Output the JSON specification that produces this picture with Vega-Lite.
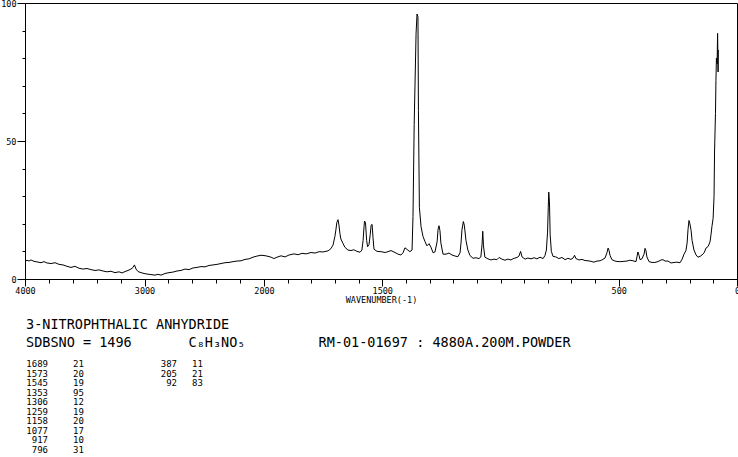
{
  "$schema": "https://vega.github.io/schema/vega-lite/v6.json",
  "background": "white",
  "padding": {"left": 0, "top": -2, "right": 0, "bottom": 0},
  "spacing": 12,
  "config": {
    "view": {"stroke": null},
    "font": "DejaVu Sans Mono",
    "axis": {
      "labelFont": "DejaVu Sans Mono", "labelFontSize": 8.5, "labelColor": "black",
      "tickColor": "black", "domainColor": "black", "tickWidth": 1, "domainWidth": 1,
      "titleFont": "DejaVu Sans Mono", "titleFontSize": 8.5, "titleFontWeight": "normal", "titleColor": "black",
      "grid": false
    }
  },
  "datasets": {
    "spectrum": [
      {"wavenumber":4000,"intensity":6.3},{"wavenumber":3983,"intensity":6.8},{"wavenumber":3967,"intensity":6.5},{"wavenumber":3950,"intensity":6.9},{"wavenumber":3925,"intensity":6.4},{"wavenumber":3900,"intensity":6.2},{"wavenumber":3866,"intensity":5.9},{"wavenumber":3841,"intensity":6.3},{"wavenumber":3816,"intensity":5.8},{"wavenumber":3782,"intensity":5.6},{"wavenumber":3749,"intensity":5.9},{"wavenumber":3715,"intensity":5.3},{"wavenumber":3682,"intensity":5.1},{"wavenumber":3649,"intensity":4.6},{"wavenumber":3615,"intensity":4.2},{"wavenumber":3582,"intensity":4.6},{"wavenumber":3548,"intensity":3.9},{"wavenumber":3515,"intensity":3.6},{"wavenumber":3481,"intensity":3.8},{"wavenumber":3448,"intensity":3.4},{"wavenumber":3414,"intensity":3.1},{"wavenumber":3381,"intensity":3.3},{"wavenumber":3347,"intensity":2.9},{"wavenumber":3314,"intensity":2.6},{"wavenumber":3280,"intensity":2.8},{"wavenumber":3247,"intensity":2.3},{"wavenumber":3213,"intensity":2.6},{"wavenumber":3188,"intensity":2.2},{"wavenumber":3163,"intensity":2.7},{"wavenumber":3138,"intensity":3.1},{"wavenumber":3113,"intensity":3.6},{"wavenumber":3096,"intensity":4.2},{"wavenumber":3084,"intensity":5.1},{"wavenumber":3071,"intensity":3.6},{"wavenumber":3054,"intensity":2.7},{"wavenumber":3029,"intensity":2.3},{"wavenumber":3004,"intensity":2.0},{"wavenumber":2979,"intensity":1.8},{"wavenumber":2946,"intensity":1.6},{"wavenumber":2912,"intensity":1.4},{"wavenumber":2887,"intensity":1.7},{"wavenumber":2862,"intensity":1.4},{"wavenumber":2828,"intensity":2.0},{"wavenumber":2795,"intensity":2.3},{"wavenumber":2762,"intensity":2.5},{"wavenumber":2728,"intensity":2.9},{"wavenumber":2695,"intensity":3.1},{"wavenumber":2661,"intensity":3.6},{"wavenumber":2628,"intensity":3.4},{"wavenumber":2594,"intensity":4.0},{"wavenumber":2561,"intensity":4.2},{"wavenumber":2527,"intensity":4.5},{"wavenumber":2494,"intensity":4.4},{"wavenumber":2460,"intensity":4.9},{"wavenumber":2427,"intensity":5.1},{"wavenumber":2393,"intensity":5.3},{"wavenumber":2360,"intensity":5.6},{"wavenumber":2326,"intensity":5.9},{"wavenumber":2293,"intensity":6.0},{"wavenumber":2259,"intensity":6.3},{"wavenumber":2226,"intensity":6.5},{"wavenumber":2192,"intensity":6.6},{"wavenumber":2159,"intensity":7.1},{"wavenumber":2126,"intensity":7.3},{"wavenumber":2092,"intensity":7.9},{"wavenumber":2059,"intensity":8.3},{"wavenumber":2025,"intensity":8.6},{"wavenumber":2000,"intensity":8.5},
      {"wavenumber":1987,"intensity":8.3},{"wavenumber":1970,"intensity":7.9},{"wavenumber":1958,"intensity":7.4},{"wavenumber":1945,"intensity":7.9},{"wavenumber":1928,"intensity":8.4},{"wavenumber":1911,"intensity":8.0},{"wavenumber":1894,"intensity":8.7},{"wavenumber":1873,"intensity":9.1},{"wavenumber":1856,"intensity":8.8},{"wavenumber":1839,"intensity":9.3},{"wavenumber":1822,"intensity":9.1},{"wavenumber":1801,"intensity":9.6},{"wavenumber":1784,"intensity":9.4},{"wavenumber":1767,"intensity":9.9},{"wavenumber":1751,"intensity":9.8},{"wavenumber":1729,"intensity":10.2},{"wavenumber":1717,"intensity":11.0},{"wavenumber":1708,"intensity":12.3},{"wavenumber":1700,"intensity":15.5},{"wavenumber":1696,"intensity":17.8},{"wavenumber":1692,"intensity":20.5},{"wavenumber":1687,"intensity":21.5},{"wavenumber":1683,"intensity":19.5},{"wavenumber":1679,"intensity":16.5},{"wavenumber":1675,"intensity":14.5},{"wavenumber":1666,"intensity":12.9},{"wavenumber":1658,"intensity":11.5},{"wavenumber":1645,"intensity":10.5},{"wavenumber":1632,"intensity":10.3},{"wavenumber":1620,"intensity":10.6},{"wavenumber":1607,"intensity":10.0},{"wavenumber":1594,"intensity":9.7},{"wavenumber":1586,"intensity":10.5},{"wavenumber":1581,"intensity":14.0},{"wavenumber":1577,"intensity":19.0},{"wavenumber":1575,"intensity":21.0},{"wavenumber":1571,"intensity":20.5},{"wavenumber":1566,"intensity":14.0},{"wavenumber":1562,"intensity":11.7},{"wavenumber":1556,"intensity":12.5},{"wavenumber":1551,"intensity":16.0},{"wavenumber":1547,"intensity":19.5},{"wavenumber":1543,"intensity":19.8},{"wavenumber":1539,"intensity":15.0},{"wavenumber":1535,"intensity":10.8},{"wavenumber":1522,"intensity":10.0},{"wavenumber":1505,"intensity":9.9},{"wavenumber":1488,"intensity":9.6},{"wavenumber":1476,"intensity":9.9},{"wavenumber":1463,"intensity":10.3},{"wavenumber":1446,"intensity":9.6},{"wavenumber":1433,"intensity":9.0},{"wavenumber":1421,"intensity":8.7},{"wavenumber":1412,"intensity":9.5},{"wavenumber":1404,"intensity":11.3},{"wavenumber":1395,"intensity":10.7},{"wavenumber":1383,"intensity":9.9},{"wavenumber":1374,"intensity":10.5},{"wavenumber":1370,"intensity":22.6},{"wavenumber":1365,"intensity":56},{"wavenumber":1357,"intensity":89},{"wavenumber":1353,"intensity":96},{"wavenumber":1349,"intensity":95},{"wavenumber":1347,"intensity":61},{"wavenumber":1343,"intensity":26},{"wavenumber":1336,"intensity":19},{"wavenumber":1328,"intensity":15.5},{"wavenumber":1319,"intensity":13.5},{"wavenumber":1311,"intensity":12.0},{"wavenumber":1302,"intensity":12.8},{"wavenumber":1294,"intensity":11.5},{"wavenumber":1285,"intensity":9.5},{"wavenumber":1277,"intensity":9.8},{"wavenumber":1268,"intensity":13.5},{"wavenumber":1264,"intensity":18.0},{"wavenumber":1260,"intensity":19.3},{"wavenumber":1256,"intensity":17.5},{"wavenumber":1252,"intensity":13.0},{"wavenumber":1243,"intensity":9.0},{"wavenumber":1230,"intensity":9.0},{"wavenumber":1218,"intensity":9.4},{"wavenumber":1205,"intensity":8.7},{"wavenumber":1192,"intensity":8.3},{"wavenumber":1180,"intensity":8.1},{"wavenumber":1171,"intensity":9.5},{"wavenumber":1167,"intensity":13.0},{"wavenumber":1163,"intensity":17.8},{"wavenumber":1157,"intensity":20.8},{"wavenumber":1153,"intensity":19.5},{"wavenumber":1146,"intensity":14.0},{"wavenumber":1138,"intensity":10.5},{"wavenumber":1129,"intensity":8.5},{"wavenumber":1116,"intensity":7.5},{"wavenumber":1104,"intensity":7.7},{"wavenumber":1091,"intensity":7.4},{"wavenumber":1083,"intensity":8.0},{"wavenumber":1078,"intensity":12.5},{"wavenumber":1075,"intensity":17.3},{"wavenumber":1072,"intensity":12.0},{"wavenumber":1066,"intensity":7.9},{"wavenumber":1053,"intensity":7.3},{"wavenumber":1040,"intensity":6.9},{"wavenumber":1028,"intensity":7.2},{"wavenumber":1015,"intensity":7.0},{"wavenumber":1006,"intensity":7.8},{"wavenumber":994,"intensity":7.2},{"wavenumber":981,"intensity":6.8},{"wavenumber":969,"intensity":7.2},{"wavenumber":956,"intensity":6.9},{"wavenumber":943,"intensity":7.5},{"wavenumber":930,"intensity":7.8},{"wavenumber":922,"intensity":8.3},{"wavenumber":915,"intensity":10.0},{"wavenumber":909,"intensity":8.0},{"wavenumber":896,"intensity":7.2},{"wavenumber":884,"intensity":7.6},{"wavenumber":871,"intensity":7.3},{"wavenumber":858,"intensity":7.7},{"wavenumber":846,"intensity":7.3},{"wavenumber":833,"intensity":7.9},{"wavenumber":820,"intensity":7.4},{"wavenumber":812,"intensity":8.5},{"wavenumber":806,"intensity":10.5},{"wavenumber":801,"intensity":17},{"wavenumber":798,"intensity":26},{"wavenumber":796,"intensity":31.5},{"wavenumber":793,"intensity":28},{"wavenumber":790,"intensity":16},{"wavenumber":785,"intensity":10},{"wavenumber":778,"intensity":8.2},{"wavenumber":766,"intensity":8.0},{"wavenumber":753,"intensity":7.4},{"wavenumber":740,"intensity":7.8},{"wavenumber":727,"intensity":7.0},{"wavenumber":715,"intensity":7.5},{"wavenumber":702,"intensity":7.1},{"wavenumber":693,"intensity":7.6},{"wavenumber":687,"intensity":8.6},{"wavenumber":681,"intensity":7.4},{"wavenumber":668,"intensity":6.9},{"wavenumber":655,"intensity":7.1},{"wavenumber":643,"intensity":6.7},{"wavenumber":630,"intensity":6.6},{"wavenumber":617,"intensity":6.4},{"wavenumber":605,"intensity":6.1},{"wavenumber":592,"intensity":6.5},{"wavenumber":579,"intensity":6.6},{"wavenumber":567,"intensity":7.1},{"wavenumber":558,"intensity":7.6},{"wavenumber":550,"intensity":9.5},{"wavenumber":545,"intensity":11.2},{"wavenumber":541,"intensity":10.3},{"wavenumber":537,"intensity":8.6},{"wavenumber":529,"intensity":7.0},{"wavenumber":516,"intensity":6.5},{"wavenumber":503,"intensity":6.3},{"wavenumber":491,"intensity":6.3},{"wavenumber":478,"intensity":6.4},{"wavenumber":465,"intensity":6.5},{"wavenumber":453,"intensity":6.8},{"wavenumber":440,"intensity":6.6},{"wavenumber":427,"intensity":6.3},{"wavenumber":423,"intensity":8.0},{"wavenumber":419,"intensity":9.8},{"wavenumber":414,"intensity":8.5},{"wavenumber":410,"intensity":7.0},{"wavenumber":402,"intensity":7.3},{"wavenumber":393,"intensity":9.0},{"wavenumber":389,"intensity":11.1},{"wavenumber":385,"intensity":10.3},{"wavenumber":381,"intensity":8.0},{"wavenumber":372,"intensity":6.3},{"wavenumber":359,"intensity":6.0},{"wavenumber":347,"intensity":6.0},{"wavenumber":334,"intensity":6.3},{"wavenumber":321,"intensity":6.9},{"wavenumber":313,"intensity":7.0},{"wavenumber":304,"intensity":6.5},{"wavenumber":292,"intensity":6.5},{"wavenumber":279,"intensity":5.8},{"wavenumber":266,"intensity":6.0},{"wavenumber":254,"intensity":6.1},{"wavenumber":241,"intensity":5.9},{"wavenumber":232,"intensity":7.2},{"wavenumber":224,"intensity":9.0},{"wavenumber":216,"intensity":10.3},{"wavenumber":211,"intensity":13.0},{"wavenumber":207,"intensity":18.0},{"wavenumber":203,"intensity":21.2},{"wavenumber":199,"intensity":20.0},{"wavenumber":194,"intensity":17.5},{"wavenumber":190,"intensity":14.0},{"wavenumber":182,"intensity":10.5},{"wavenumber":173,"intensity":8.7},{"wavenumber":165,"intensity":7.9},{"wavenumber":156,"intensity":8.2},{"wavenumber":148,"intensity":8.7},{"wavenumber":139,"intensity":9.5},{"wavenumber":131,"intensity":11.2},{"wavenumber":122,"intensity":11.8},{"wavenumber":114,"intensity":13.5},{"wavenumber":110,"intensity":16},{"wavenumber":106,"intensity":19},{"wavenumber":101,"intensity":22},{"wavenumber":97,"intensity":30},{"wavenumber":95,"intensity":46},{"wavenumber":91,"intensity":60},{"wavenumber":89,"intensity":72},{"wavenumber":87,"intensity":80},{"wavenumber":84,"intensity":78},{"wavenumber":83,"intensity":84},{"wavenumber":82,"intensity":89},{"wavenumber":80,"intensity":75},{"wavenumber":79,"intensity":83}
    ],
    "peaks": [
      {"column":1,"wavenumber":1689,"intensity":21},
      {"column":1,"wavenumber":1573,"intensity":20},
      {"column":1,"wavenumber":1545,"intensity":19},
      {"column":1,"wavenumber":1353,"intensity":95},
      {"column":1,"wavenumber":1306,"intensity":12},
      {"column":1,"wavenumber":1259,"intensity":19},
      {"column":1,"wavenumber":1158,"intensity":20},
      {"column":1,"wavenumber":1077,"intensity":17},
      {"column":1,"wavenumber":917,"intensity":10},
      {"column":1,"wavenumber":796,"intensity":31},
      {"column":2,"wavenumber":387,"intensity":11},
      {"column":2,"wavenumber":205,"intensity":21},
      {"column":2,"wavenumber":92,"intensity":83}
    ]
  },
  "vconcat": [
    {
      "width": 712,
      "height": 276,
      "view": {"stroke": "black", "strokeWidth": 1},
      "data": {"name": "spectrum"},
      "layer": [
        {
          "mark": {"type": "line", "color": "black", "strokeWidth": 1},
          "encoding": {
            "x": {
              "field": "wavenumber", "type": "quantitative",
              "scale": {"domain": [4000, 2000, 0], "range": [0, 239, 712], "nice": false, "zero": false},
              "axis": {"orient": "bottom", "values": [4000, 3000, 2000, 1500, 500, 0], "format": "d", "tickSize": 7, "labelPadding": 0, "labelFlush": false, "labelOverlap": false, "title": "WAVENUMBER(-1)", "titlePadding": 1}
            },
            "y": {
              "field": "intensity", "type": "quantitative",
              "scale": {"domain": [0, 100], "nice": false, "zero": false},
              "axis": {"orient": "left", "values": [0, 50, 100], "format": "d", "tickSize": 8, "labelPadding": 1, "title": null}
            }
          }
        },
        {
          "mark": {"type": "line", "opacity": 0},
          "encoding": {
            "x": {
              "field": "wavenumber", "type": "quantitative",
              "axis": {"orient": "bottom", "values": [4000,3800,3600,3400,3200,3000,2800,2600,2400,2200,2000,1900,1800,1700,1600,1500,1400,1300,1200,1100,1000,900,800,700,600,500,400,300,200,100,0], "tickSize": 4, "labels": false, "domain": false, "title": null}
            },
            "y": {
              "field": "intensity", "type": "quantitative",
              "axis": {"orient": "left", "values": [10, 20, 30, 40, 60, 70, 80, 90], "tickSize": 3, "labels": false, "domain": false, "title": null}
            }
          }
        }
      ],
      "resolve": {"axis": {"x": "independent", "y": "independent"}}
    },
    {
      "width": 712,
      "height": 86,
      "title": {
        "text": ["3-NITROPHTHALIC ANHYDRIDE", "SDBSNO = 1496\u00a0\u00a0\u00a0\u00a0\u00a0\u00a0\u00a0C₈H₃NO₅\u00a0\u00a0\u00a0\u00a0\u00a0\u00a0\u00a0\u00a0\u00a0RM-01-01697 : 4880A.200M.POWDER"],
        "anchor": "start", "dx": 1, "font": "DejaVu Sans Mono", "fontSize": 13.5, "fontWeight": "normal",
        "lineHeight": 18, "offset": 11, "color": "black", "frame": "group"
      },
      "data": {"name": "peaks"},
      "transform": [{"window": [{"op": "row_number", "as": "row"}], "groupby": ["column"]}],
      "layer": [
        {
          "mark": {"type": "text", "align": "right", "baseline": "alphabetic", "font": "DejaVu Sans Mono", "fontSize": 9, "color": "black"},
          "encoding": {
            "x": {"field": "column", "type": "quantitative", "scale": {"domain": [1, 2], "range": [23, 152]}, "axis": null},
            "y": {"field": "row", "type": "quantitative", "scale": {"domain": [1, 10], "range": [0, 86]}, "axis": null},
            "text": {"field": "wavenumber", "type": "quantitative", "format": "d"}
          }
        },
        {
          "mark": {"type": "text", "align": "left", "baseline": "alphabetic", "font": "DejaVu Sans Mono", "fontSize": 9, "color": "black"},
          "encoding": {
            "x": {"field": "column", "type": "quantitative", "scale": {"domain": [1, 2], "range": [48, 167]}, "axis": null},
            "y": {"field": "row", "type": "quantitative", "scale": {"domain": [1, 10], "range": [0, 86]}, "axis": null},
            "text": {"field": "intensity", "type": "quantitative", "format": "d"}
          }
        }
      ],
      "resolve": {"scale": {"x": "independent"}}
    }
  ]
}
